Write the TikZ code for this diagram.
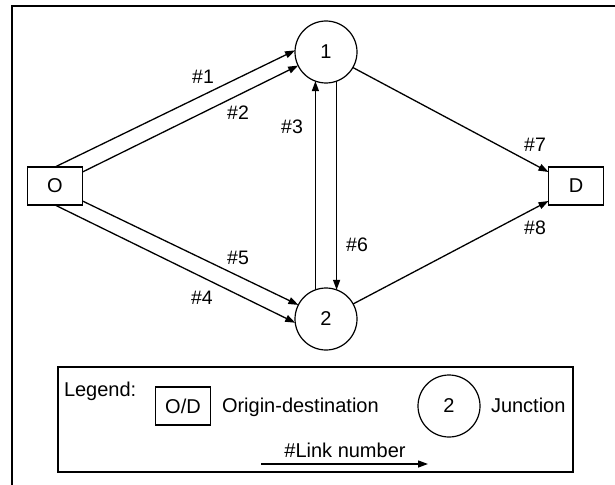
\documentclass[tikz,border=0pt]{standalone}
\usepackage{fontspec}
\setmainfont{Liberation Sans}
\usetikzlibrary{arrows.meta,calc}
\begin{document}
\begin{tikzpicture}[x=1pt,y=-1pt,
  every node/.style={font=\fontsize{20}{24}\selectfont, inner sep=0pt, outer sep=0pt},
  odbox/.style={draw, line width=1.2pt, minimum width=55pt, minimum height=38pt},
  junc/.style={draw, circle, line width=1.2pt, minimum size=62pt},
  link/.style={line width=1.3pt, -{Triangle[length=10pt,width=7pt]}},
  lbl/.style={font=\fontsize{19.5}{23}\selectfont},
  txt/.style={anchor=base west}]
\useasboundingbox (0,0) rectangle (615,484);
% frame
\draw[line width=1.5pt] (616,6) -- (12,6) -- (12,486);
% nodes
\node[odbox] (O) at (55,186) {O};
\node[odbox] (D) at (576,186) {D};
\node[junc] (n1) at (326,52) {1};
\node[junc] (n2) at (326,319) {2};
% links
\draw[link] (O.north) -- (n1.177);
\draw[link] ($(O.north east)+(0,5)$) -- (n1.206);
\draw[link] (O.south) -- (n2.187);
\draw[link] ($(O.south east)+(0,-4)$) -- (n2.153);
\draw[link] (n1.250 |- n2.110) -- (n1.250);
\draw[link] (n1.290) -- (n1.290 |- n2.70);
\draw[link] (n1.330) -- ($(D.north west)+(0,5)$);
\draw[link] (n2.29) -- ($(D.south west)+(0,-4)$);
% labels
\node[lbl] (l1) at (203,77) {\#1};
\node[lbl] (l2) at (238,113) {\#2};
\node[lbl] (l3) at (292,127) {\#3};
\node[lbl] (l4) at (202,298) {\#4};
\node[lbl] (l5) at (238,258) {\#5};
\node[lbl] (l6) at (357,245) {\#6};
\node[lbl] (l7) at (535,145) {\#7};
\node[lbl] (l8) at (535,228) {\#8};
% legend
\node[draw, line width=1.3pt, minimum width=515pt, minimum height=105pt] (leg) at (315.5,419.5) {};
\node[txt] (legt) at (64,396) {Legend:};
\node[odbox] (legod) at (183,406) {O/D};
\node[txt] (legodt) at (222,412) {Origin-destination};
\node[junc] (legj) at (449,406) {2};
\node[txt] (legjt) at (491,412) {Junction};
\node[anchor=base] (legl) at (345,457) {\#Link number};
\coordinate (la) at (261,464);
\coordinate (lb) at (428,464);
\draw[link] (la) -- (lb);
\end{tikzpicture}
\end{document}
